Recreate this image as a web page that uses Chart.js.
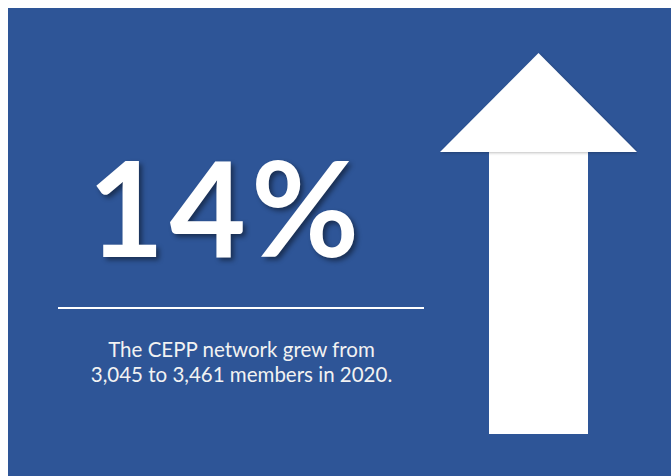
<!DOCTYPE html>
<html><head><meta charset="utf-8">
<script src="https://cdn.jsdelivr.net/npm/chart.js@4"></script>
<style>
html,body{margin:0;padding:0;background:#fff;width:671px;height:476px;overflow:hidden;}
#panel{position:absolute;left:8px;top:8px;width:663px;height:468px;background:#2E5597;}
#big{position:absolute;left:-15px;top:126px;width:482px;text-align:center;font-family:Lato,sans-serif;font-weight:700;font-size:132px;line-height:160px;color:#fff;text-shadow:3px 3px 5px rgba(0,0,0,0.45);letter-spacing:5px;}
#rule{position:absolute;left:58px;top:307px;width:366px;height:2px;background:#fff;}
#caption{position:absolute;left:0;top:337px;width:483px;text-align:center;font-family:Lato,sans-serif;font-size:20.5px;line-height:25px;color:#f2f2f2;}
#wrap{position:absolute;left:440px;top:53px;width:197px;height:381px;}
</style></head>
<body>
<div id="panel"></div>
<div id="big"></div>
<div id="rule"></div>
<div id="caption"></div>
<div id="wrap"><canvas id="c"></canvas></div>
<script>
const year = 2020;
const startMembers = 3045;
const endMembers = 3461;
const growthPct = 14;
const categories = ['2020'];
const shaftRange = [[0, 74]];   // arrow shaft (share of arrow height)
const headTop = [100];          // arrow tip

function fmt(n){return n.toLocaleString('en-US');}
document.getElementById('big').textContent = growthPct + '%';
document.getElementById('caption').innerHTML =
  'The CEPP network grew from<br>' + fmt(startMembers) + ' to ' + fmt(endMembers) + ' members in ' + year + '.';

const arrowHead = {
  id:'arrowHead',
  afterDatasetsDraw(chart){
    const ctx = chart.ctx;
    const meta = chart.getDatasetMeta(0);
    const bar = meta.data[0];
    const ys = chart.scales.y, xs = chart.scales.x;
    const baseY = bar.y;
    const tipY = ys.getPixelForValue(headTop[0]);
    ctx.save();
    ctx.shadowColor='rgba(0,0,0,0.25)';ctx.shadowBlur=3;ctx.shadowOffsetX=1;ctx.shadowOffsetY=1;
    ctx.fillStyle='#ffffff';
    ctx.beginPath();
    ctx.moveTo(xs.left, baseY);
    ctx.lineTo(bar.x, tipY);
    ctx.lineTo(xs.right, baseY);
    ctx.closePath();
    ctx.fill();
    ctx.restore();
  }
};

new Chart(document.getElementById('c'), {
  type:'bar',
  data:{labels:categories, datasets:[{data:shaftRange, backgroundColor:'#ffffff', borderWidth:0, barPercentage:1, categoryPercentage:99/197}]},
  options:{
    responsive:true, maintainAspectRatio:false, animation:false,
    layout:{padding:0},
    plugins:{legend:{display:false}, tooltip:{enabled:false}},
    scales:{
      x:{display:false, offset:true},
      y:{display:false, min:0, max:100}
    }
  },
  plugins:[arrowHead]
});
</script>
</body></html>
